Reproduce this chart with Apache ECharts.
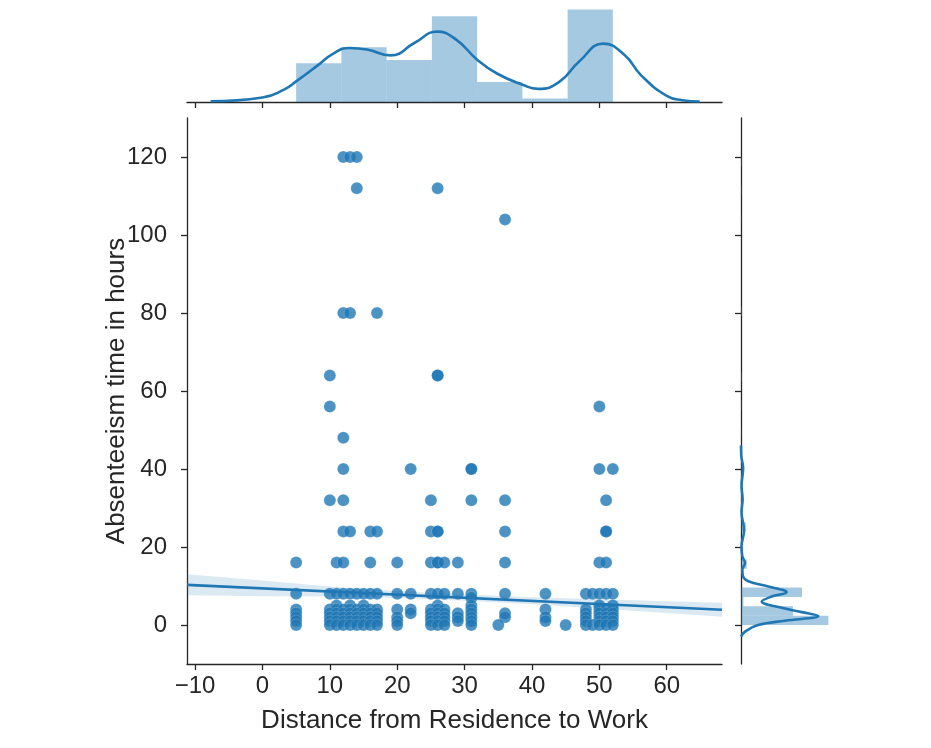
<!DOCTYPE html>
<html>
<head>
<meta charset="utf-8">
<script src="https://cdn.jsdelivr.net/npm/echarts@6/dist/echarts.min.js"></script>
<style>
html, body { margin: 0; padding: 0; background: #fff; }
#main { width: 931px; height: 748px; }
</style>
</head>
<body>
<div id="main"></div>
<script>
// 坐标轴范围与刻度
var xMin = -11.2, xMax = 68.2;
var yMin = -10, yMax = 130;
var xTicks = [-10, 0, 10, 20, 30, 40, 50, 60];
var yTicks = [0, 20, 40, 60, 80, 100, 120];

// 散点：每个缺勤小时数对应的距离列表
var hourLevels = [120, 112, 104, 80, 64, 56, 48, 40, 32, 24, 16, 8, 7, 5, 4, 3, 2, 1, 0];
var distancesAtLevel = [
    [12, 13, 14],
    [14, 26],
    [36],
    [12, 13, 17],
    [10, 26, 26],
    [10, 50],
    [12],
    [12, 22, 31, 31, 50, 52],
    [10, 12, 25, 31, 36, 51],
    [12, 13, 16, 17, 25, 26, 26, 36, 51, 51],
    [5, 11, 12, 16, 20, 25, 26, 26, 27, 29, 36, 50, 51],
    [5, 10, 11, 12, 13, 14, 15, 16, 17, 20, 22, 25, 26, 27, 29, 31, 36, 42, 48, 49, 50, 51, 52],
    [31],
    [11, 13, 15, 26, 31, 50, 52],
    [5, 10, 11, 12, 13, 14, 15, 16, 17, 20, 22, 25, 26, 27, 31, 42, 48, 50, 51, 52],
    [5, 10, 11, 12, 13, 14, 15, 16, 17, 22, 25, 26, 27, 29, 31, 36, 48, 50, 51, 52],
    [5, 10, 11, 12, 13, 14, 15, 16, 17, 20, 25, 26, 27, 29, 31, 36, 42, 48, 50, 51, 52],
    [5, 10, 11, 12, 13, 14, 15, 16, 17, 20, 25, 26, 27, 29, 31, 42, 48, 50, 51, 52],
    [5, 10, 11, 12, 13, 14, 15, 16, 17, 20, 25, 26, 27, 31, 35, 45, 48, 49, 50, 51, 52]
];

// 回归线与置信带
var regX = [-11.2, 68.2];
var regY = [10.3, 3.9];
var bandX = [-11.2, 0, 10, 20, 30, 40, 50, 60, 68.2];
var bandLow = [7.6, 7.4, 7.3, 6.9, 6.2, 5.3, 4.2, 3.1, 2.1];
var bandHigh = [13.0, 11.4, 9.9, 8.7, 7.8, 7.1, 6.6, 6.1, 5.7];

// 上方边缘直方图（密度）与核密度曲线
var topBinEdges = [5, 11.71, 18.43, 25.14, 31.86, 38.57, 45.29, 52];
var topBinDensity = [0.0171, 0.0242, 0.0186, 0.0379, 0.0088, 0.0015, 0.0409];
var topKdeX = [-7.7, 0.0, 3.2, 5.0, 8.3, 10.4, 12.9, 15.5, 19.0, 22.6, 25.9, 28.7, 31.9, 34.8, 38.6, 40.9, 44.0, 47.0, 50.6, 53.7, 56.2, 60.0, 62.3, 64.9];
var topKdeY = [0.0003, 0.0020, 0.0055, 0.0091, 0.0164, 0.0212, 0.0239, 0.0232, 0.0206, 0.0262, 0.0311, 0.0277, 0.0186, 0.0126, 0.0076, 0.0058, 0.0088, 0.0179, 0.0258, 0.0209, 0.0118, 0.0027, 0.0008, 0.0002];

// 右侧边缘直方图（密度）与核密度曲线（高处的尾巴贴着轴线，看不出来）
var yBinWidth = 2.4;
var rightBinLow = [0, 2.4, 4.8, 7.2, 14.4, 24, 31.2, 38.4, 48, 55.2, 62.4, 79.2, 103.2, 110.4, 117.6];
var rightBinDensity = [0.1627, 0.0969, 0.0045, 0.1137, 0.0107, 0.0090, 0.0034, 0.0039, 0.0006, 0.0011, 0.0017, 0.0017, 0.0006, 0.0011, 0.0017];
var rightKdeY = [-3.0, -1.7, 0, 1.1, 2.3, 3.3, 4.6, 6.0, 7.3, 8.4, 9.9, 11.2, 12.5, 14.2, 15.9, 17.6, 20.2, 24.2, 28.9, 32.2, 35.7, 40.2, 43.4, 46];
var rightKdeX = [0, 0.0075, 0.032, 0.082, 0.144, 0.113, 0.070, 0.0386, 0.057, 0.085, 0.051, 0.0136, 0.0037, 0.0025, 0.0075, 0.0025, 0.001, 0.0057, 0.001, 0.003, 0.001, 0.004, 0.0005, 0];

var blue = '#1f77b4';
var ink = '#262626';
var font = 'Liberation Sans';

function pairs(xs, ys) {
    return xs.map(function (x, i) { return [x, ys[i]]; });
}

var scatterData = [];
hourLevels.forEach(function (h, i) {
    distancesAtLevel[i].forEach(function (d) { scatterData.push([d, h]); });
});

var topBars = topBinDensity.map(function (v, i) { return [topBinEdges[i], topBinEdges[i + 1], v]; });
var rightBars = rightBinDensity.map(function (v, i) { return [rightBinLow[i], rightBinLow[i] + yBinWidth, v]; });
var bandData = bandX.map(function (x, i) { return [x, bandLow[i], bandHigh[i]]; });

function minusFmt(v) {
    return v < 0 ? '\u2212' + (-v) : String(v);
}

var axisLineStyle = { color: ink, width: 1.3 };

var myChart = echarts.init(document.getElementById('main'));
myChart.setOption({
    animation: false,
    grid: [
        { left: 187, top: 118, width: 535, height: 546 },
        { left: 187, top: 0, width: 535, height: 102 },
        { left: 741, top: 118, width: 109, height: 546 }
    ],
    xAxis: [
        {
            gridIndex: 0, type: 'value', min: xMin, max: xMax,
            splitLine: { show: false },
            axisLine: { show: true, onZero: false, lineStyle: axisLineStyle },
            axisTick: { show: true, length: 6, customValues: xTicks, lineStyle: axisLineStyle },
            axisLabel: { customValues: xTicks, formatter: minusFmt, color: ink, fontSize: 24, fontFamily: font, margin: 10 },
            name: 'Distance from Residence to Work', nameLocation: 'middle', nameGap: 44,
            nameMoveOverlap: false,
            nameTextStyle: { color: ink, fontSize: 26, fontFamily: font }
        },
        {
            gridIndex: 1, type: 'value', min: xMin, max: xMax,
            splitLine: { show: false },
            axisLine: { show: true, onZero: false, lineStyle: axisLineStyle },
            axisTick: { show: true, length: 6, customValues: xTicks, lineStyle: axisLineStyle },
            axisLabel: { show: false }
        },
        { gridIndex: 2, type: 'value', min: 0, max: 0.203, show: false }
    ],
    yAxis: [
        {
            gridIndex: 0, type: 'value', min: yMin, max: yMax,
            splitLine: { show: false },
            axisLine: { show: true, onZero: false, lineStyle: axisLineStyle },
            axisTick: { show: true, length: 6, customValues: yTicks, lineStyle: axisLineStyle },
            axisLabel: { customValues: yTicks, color: ink, fontSize: 24, fontFamily: font, margin: 20 },
            name: 'Absenteeism time in hours', nameLocation: 'middle', nameGap: 57,
            nameMoveOverlap: false,
            nameTextStyle: { color: ink, fontSize: 26, fontFamily: font }
        },
        { gridIndex: 1, type: 'value', min: 0, max: 0.0451, show: false },
        {
            gridIndex: 2, type: 'value', min: yMin, max: yMax,
            splitLine: { show: false },
            axisLine: { show: true, onZero: false, lineStyle: axisLineStyle },
            axisTick: { show: true, length: 6, customValues: yTicks, lineStyle: axisLineStyle },
            axisLabel: { show: false }
        }
    ],
    series: [
        {
            type: 'scatter', xAxisIndex: 0, yAxisIndex: 0,
            data: scatterData, symbolSize: 12,
            itemStyle: { color: blue, opacity: 0.8, borderColor: 'rgba(255,255,255,0.35)', borderWidth: 0.6 },
            z: 2
        },
        {
            // 置信带：用上下边界拼成一个多边形
            type: 'custom', xAxisIndex: 0, yAxisIndex: 0,
            data: bandData, encode: { x: 0, y: [1, 2] },
            renderItem: function (params, api) {
                if (params.dataIndex !== 0) {
                    return null;
                }
                var pts = [];
                for (var i = 0; i < bandData.length; i++) {
                    pts.push(api.coord([bandData[i][0], bandData[i][2]]));
                }
                for (var j = bandData.length - 1; j >= 0; j--) {
                    pts.push(api.coord([bandData[j][0], bandData[j][1]]));
                }
                return {
                    type: 'polygon',
                    shape: { points: pts },
                    style: { fill: blue, opacity: 0.16 }
                };
            },
            silent: true, z: 3
        },
        {
            type: 'line', xAxisIndex: 0, yAxisIndex: 0,
            data: pairs(regX, regY), symbol: 'none',
            lineStyle: { color: blue, width: 2.6 }, z: 4
        },
        {
            type: 'custom', xAxisIndex: 1, yAxisIndex: 1,
            data: topBars, encode: { x: [0, 1], y: 2 },
            renderItem: function (params, api) {
                var p0 = api.coord([api.value(0), api.value(2)]);
                var p1 = api.coord([api.value(1), 0]);
                return {
                    type: 'rect',
                    shape: { x: p0[0], y: p0[1], width: p1[0] - p0[0], height: p1[1] - p0[1] },
                    style: { fill: blue, opacity: 0.4 }
                };
            },
            z: 2
        },
        {
            type: 'line', xAxisIndex: 1, yAxisIndex: 1,
            data: pairs(topKdeX, topKdeY), smooth: true, symbol: 'none',
            lineStyle: { color: blue, width: 2.6 }, z: 3
        },
        {
            type: 'custom', xAxisIndex: 2, yAxisIndex: 2,
            data: rightBars, encode: { x: 2, y: [0, 1] },
            renderItem: function (params, api) {
                var p0 = api.coord([0, api.value(1)]);
                var p1 = api.coord([api.value(2), api.value(0)]);
                return {
                    type: 'rect',
                    shape: { x: p0[0], y: p0[1], width: p1[0] - p0[0], height: p1[1] - p0[1] },
                    style: { fill: blue, opacity: 0.4 }
                };
            },
            z: 2
        },
        {
            type: 'line', xAxisIndex: 2, yAxisIndex: 2,
            data: pairs(rightKdeX, rightKdeY), smooth: 0.4, symbol: 'none',
            lineStyle: { color: blue, width: 2.6 }, z: 3
        }
    ]
});
</script>
</body>
</html>
